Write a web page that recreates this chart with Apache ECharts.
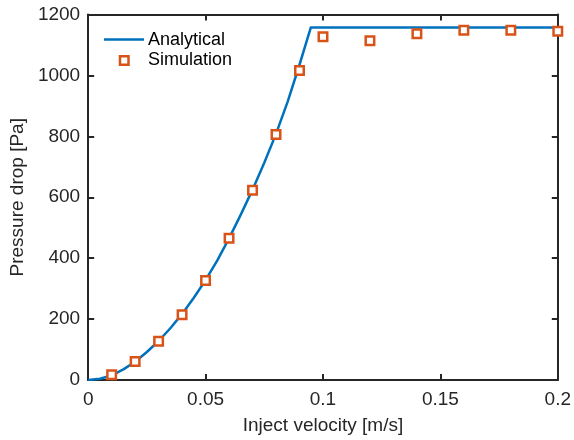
<!DOCTYPE html>
<html>
<head>
<meta charset="utf-8">
<script src="https://cdn.jsdelivr.net/npm/echarts@6/dist/echarts.min.js"></script>
<style>
  html, body { margin: 0; padding: 0; background: #fff; }
  #chart { width: 574px; height: 440px; }
</style>
</head>
<body>
<div id="chart"></div>
<script>
// Analytical model: pressure drop vs injection velocity (plateaus at the cap)
const analyticalVelocity = [0, 0.005, 0.01, 0.015, 0.02, 0.025, 0.03, 0.035, 0.04, 0.045, 0.05, 0.055, 0.06, 0.065, 0.07, 0.075, 0.08, 0.085, 0.09, 0.0948, 0.2];
const analyticalPressure = [0, 4, 15, 35, 60, 92, 128, 170, 217, 270, 328, 393, 465, 543, 625, 713, 808, 915, 1035, 1157, 1157];

// Simulation results
const simVelocity = [0.01, 0.02, 0.03, 0.04, 0.05, 0.06, 0.07, 0.08, 0.09, 0.10, 0.12, 0.14, 0.16, 0.18, 0.20];
const simPressure = [17, 61, 127, 214, 327, 465, 623, 806, 1016, 1127, 1114, 1137, 1148, 1148, 1145];

const xTicks = [0, 0.05, 0.1, 0.15, 0.2];
const yTicks = [0, 200, 400, 600, 800, 1000, 1200];

const BLUE = '#0072BD';
const ORANGE = '#D95319';
const AXIS = '#262626';
const FONT = '"Liberation Sans", Arial, Helvetica, sans-serif';

const chart = echarts.init(document.getElementById('chart'), null, { renderer: 'canvas' });

const baseAxisLine = { show: true, onZero: false, lineStyle: { color: AXIS, width: 2 } };
const baseTick = { show: true, inside: true, length: 6, lineStyle: { color: AXIS, width: 2 } };

const option = {
  animation: false,
  backgroundColor: '#fff',
  grid: { left: 88, right: 14, top: 14.5, bottom: 59, containLabel: false },
  xAxis: [
    {
      type: 'value', min: 0, max: 0.2, interval: 0.05,
      axisLine: baseAxisLine, axisTick: baseTick, splitLine: { show: false },
      axisLabel: {
        color: AXIS, fontSize: 19, fontFamily: FONT, margin: 10,
        formatter: v => { const t = xTicks.find(x => Math.abs(x - v) < 1e-9); return t === undefined ? '' : String(t); }
      },
      name: 'Inject velocity [m/s]', nameLocation: 'middle', nameGap: 36,
      nameTextStyle: { color: AXIS, fontSize: 19, fontFamily: FONT }
    },
    {
      type: 'value', position: 'top', min: 0, max: 0.2, interval: 0.05,
      axisLine: baseAxisLine, axisTick: baseTick, axisLabel: { show: false }, splitLine: { show: false }
    }
  ],
  yAxis: [
    {
      type: 'value', min: 0, max: 1200, interval: 200,
      axisLine: baseAxisLine, axisTick: baseTick, splitLine: { show: false },
      axisLabel: {
        color: AXIS, fontSize: 19, fontFamily: FONT, margin: 8,
        formatter: v => String(yTicks.find(y => y === v) ?? v)
      },
      name: 'Pressure drop [Pa]', nameLocation: 'middle', nameGap: 57,
      nameTextStyle: { color: AXIS, fontSize: 19, fontFamily: FONT }
    },
    {
      type: 'value', position: 'right', min: 0, max: 1200, interval: 200,
      axisLine: baseAxisLine, axisTick: baseTick, axisLabel: { show: false }, splitLine: { show: false }
    }
  ],
  series: [
    {
      name: 'Analytical', type: 'line',
      data: analyticalVelocity.map((v, i) => [v, analyticalPressure[i]]),
      showSymbol: false, smooth: false,
      lineStyle: { color: BLUE, width: 2.5, join: 'round' },
      z: 2
    },
    {
      name: 'Simulation', type: 'scatter',
      data: simVelocity.map((v, i) => [v, simPressure[i]]),
      symbol: 'rect', symbolSize: 8.5,
      itemStyle: { color: '#fff', opacity: 1, borderColor: ORANGE, borderWidth: 2.5 },
      clip: false,
      z: 3
    }
  ],
  graphic: [
    { type: 'line', shape: { x1: 104, y1: 39.5, x2: 144, y2: 39.5 }, style: { stroke: BLUE, lineWidth: 2.5 } },
    { type: 'rect', shape: { x: 120, y: 56.3, width: 8.5, height: 8.5 }, style: { fill: 'transparent', stroke: ORANGE, lineWidth: 2.5 } },
    { type: 'text', x: 148, y: 40, style: { text: 'Analytical', fill: '#000', font: '18px ' + FONT, verticalAlign: 'middle' } },
    { type: 'text', x: 148, y: 60.5, style: { text: 'Simulation', fill: '#000', font: '18px ' + FONT, verticalAlign: 'middle' } }
  ]
};

chart.setOption(option);
</script>
</body>
</html>
